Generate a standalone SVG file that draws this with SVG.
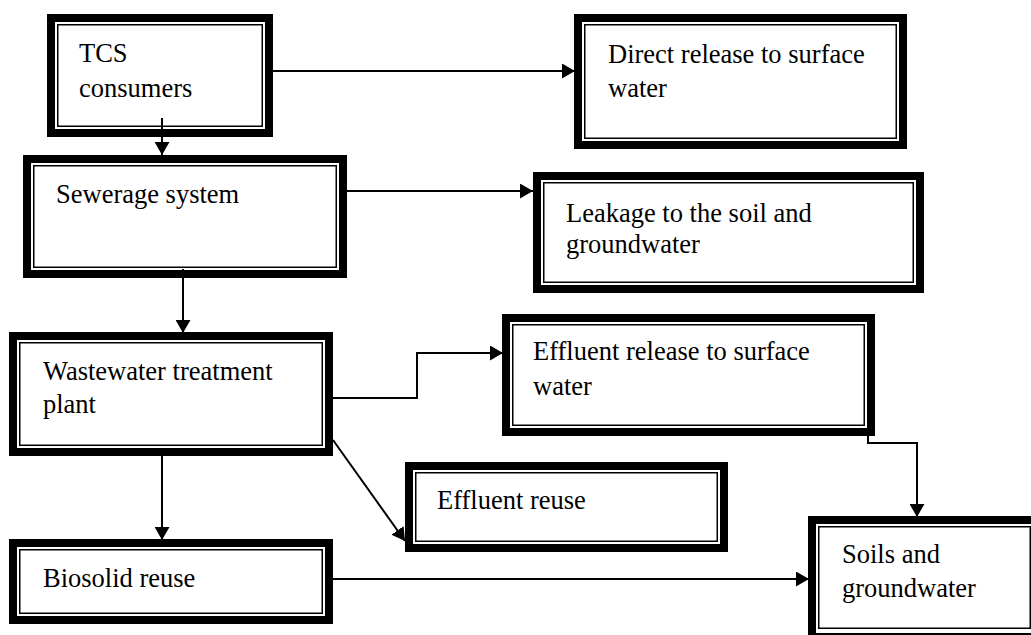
<svg xmlns="http://www.w3.org/2000/svg" width="1031" height="635" viewBox="0 0 1031 635">
<style>
.outer{fill:#fff;stroke:#000;stroke-width:8}
.inner{fill:none;stroke:#000;stroke-width:1.5}
.t{font-family:"Liberation Serif","Times New Roman",serif;font-size:26.5px;fill:#000}
.c{fill:none;stroke:#000;stroke-width:2}
</style>
<defs>
<marker id="ah" markerUnits="userSpaceOnUse" markerWidth="13" markerHeight="15" refX="13" refY="7.5" orient="auto">
<path d="M0,0 L13,7.5 L0,15 z" fill="#000"/>
</marker>
</defs>
<rect width="1031" height="635" fill="#fff"/>
<g id="n-tcs">
<rect class="outer" x="51" y="18" width="218" height="115"/>
<rect class="inner" x="57.75" y="24.75" width="204.5" height="101.5"/>
<text class="t" x="79" y="62">TCS</text>
<text class="t" x="79" y="97">consumers</text>
</g>
<g id="n-direct">
<rect class="outer" x="578" y="18" width="325" height="127"/>
<rect class="inner" x="584.75" y="24.75" width="311.5" height="113.5"/>
<text class="t" x="608" y="63">Direct release to surface</text>
<text class="t" x="608" y="97">water</text>
</g>
<g id="n-sewerage">
<rect class="outer" x="27" y="159" width="316" height="115"/>
<rect class="inner" x="33.75" y="165.75" width="302.5" height="101.5"/>
<text class="t" x="56" y="203">Sewerage system</text>
</g>
<g id="n-leakage">
<rect class="outer" x="537" y="176" width="383" height="113"/>
<rect class="inner" x="543.75" y="182.75" width="369.5" height="99.5"/>
<text class="t" x="566" y="222">Leakage to the soil and</text>
<text class="t" x="566" y="253">groundwater</text>
</g>
<g id="n-wwtp">
<rect class="outer" x="13" y="336" width="316" height="116"/>
<rect class="inner" x="19.75" y="342.75" width="302.5" height="102.5"/>
<text class="t" x="43" y="380">Wastewater treatment</text>
<text class="t" x="43" y="413">plant</text>
</g>
<g id="n-effluent-release">
<rect class="outer" x="506" y="318" width="365" height="114"/>
<rect class="inner" x="512.75" y="324.75" width="351.5" height="100.5"/>
<text class="t" x="533" y="360">Effluent release to surface</text>
<text class="t" x="533" y="395">water</text>
</g>
<g id="n-effluent-reuse">
<rect class="outer" x="409" y="466" width="315" height="82"/>
<rect class="inner" x="415.75" y="472.75" width="301.5" height="68.5"/>
<text class="t" x="437" y="509">Effluent reuse</text>
</g>
<g id="n-biosolid">
<rect class="outer" x="13" y="543" width="316" height="77"/>
<rect class="inner" x="19.75" y="549.75" width="302.5" height="63.5"/>
<text class="t" x="43" y="587">Biosolid reuse</text>
</g>
<g id="n-soils">
<rect class="outer" x="812" y="520" width="225" height="117"/>
<rect class="inner" x="818.75" y="526.75" width="211.5" height="101.5"/>
<text class="t" x="842" y="563">Soils and</text>
<text class="t" x="842" y="597">groundwater</text>
</g>
<g id="connectors">
<path class="c" d="M273,71 H575" marker-end="url(#ah)"/>
<path class="c" d="M162,118 V155" marker-end="url(#ah)"/>
<path class="c" d="M347,191 H533" marker-end="url(#ah)"/>
<path class="c" d="M183,269 V333" marker-end="url(#ah)"/>
<path class="c" d="M333,398 H417 V353 H503" marker-end="url(#ah)"/>
<path class="c" d="M333,440 L405,541" marker-end="url(#ah)"/>
<path class="c" d="M162,456 V540" marker-end="url(#ah)"/>
<path class="c" d="M868,436 V443 H917 V517" marker-end="url(#ah)"/>
<path class="c" d="M333,579 H809" marker-end="url(#ah)"/>
</g>
</svg>
